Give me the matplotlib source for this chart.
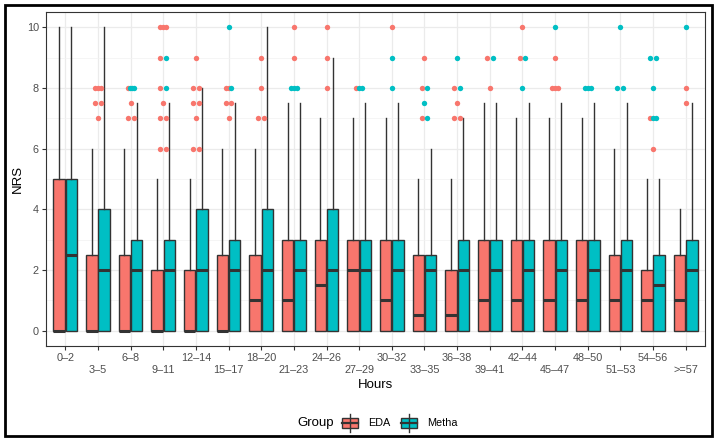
import matplotlib
matplotlib.use("Agg")
import matplotlib.pyplot as plt
from matplotlib.patches import Rectangle
from matplotlib.lines import Line2D

# categories
hours = ["0–2", "3–5", "6–8", "9–11", "12–14", "15–17", "18–20", "21–23",
         "24–26", "27–29", "30–32", "33–35", "36–38", "39–41", "42–44",
         "45–47", "48–50", "51–53", "54–56", ">=57"]

# EDA box stats
eda_q1 = [0, 0, 0, 0, 0, 0, 0, 0, 0, 0, 0, 0, 0, 0, 0, 0, 0, 0, 0, 0]
eda_med = [0, 0, 0, 0, 0, 0, 1, 1, 1.5, 2, 1, 0.5, 0.5, 1, 1, 1, 1, 1, 1, 1]
eda_q3 = [5, 2.5, 2.5, 2, 2, 2.5, 2.5, 3, 3, 3, 3, 2.5, 2, 3, 3, 3, 3, 2.5, 2, 2.5]
eda_whi = [10, 6, 6, 5, 5, 6, 6, 7.5, 7, 7, 7, 5, 5, 7.5, 7, 7, 7, 6, 5, 4]
eda_out = [[], [8, 8, 8, 7.5, 7.5, 7], [8, 7.5, 7, 7],
           [10, 10, 10, 9, 8, 7.5, 7, 7, 6, 6], [9, 8, 8, 7.5, 7.5, 7, 6, 6],
           [8, 8, 7.5, 7.5, 7], [9, 8, 7, 7], [10, 9], [10, 9, 8], [8], [10],
           [9, 8, 7], [8, 7.5, 7, 7], [9, 8], [10, 9], [9, 8, 8, 8], [], [],
           [7, 6], [8, 7.5]]

# Metha box stats
metha_q1 = [0, 0, 0, 0, 0, 0, 0, 0, 0, 0, 0, 0, 0, 0, 0, 0, 0, 0, 0, 0]
metha_med = [2.5, 2, 2, 2, 2, 2, 2, 2, 2, 2, 2, 2, 2, 2, 2, 2, 2, 2, 1.5, 2]
metha_q3 = [5, 4, 3, 3, 4, 3, 4, 3, 4, 3, 3, 2.5, 3, 3, 3, 3, 3, 3, 2.5, 3]
metha_whi = [10, 10, 7.5, 7.5, 8, 7.5, 10, 7.5, 9, 7.5, 7.5, 6, 7, 7.5, 7.5,
             7.5, 7.5, 7.5, 5, 7.5]
metha_out = [[], [], [8, 8, 8], [9, 8], [], [10, 8], [], [8, 8, 8], [], [8, 8],
             [9, 8], [8, 7.5, 7], [9, 8], [9], [9, 8], [10], [8, 8, 8],
             [10, 8, 8], [9, 9, 8, 7, 7], [10]]

groups = ["EDA", "Metha"]
colors = {"EDA": "#F8766D", "Metha": "#00BFC4"}

plt.rcParams["font.family"] = ["Liberation Sans", "DejaVu Sans"]

W, H = 718, 443
fig = plt.figure(figsize=(W / 100, H / 100), dpi=100)
ax = fig.add_axes([45.7 / W, 1 - 345.7 / H, 659.6 / W, 333.7 / H])

dark = "#333333"
dodge = 0.1875
bw = 0.35
x = list(range(len(hours)))


def make_stats(q1, med, q3, whi):
    return [dict(med=m, q1=a, q3=b, whislo=a, whishi=w, fliers=[])
            for a, m, b, w in zip(q1, med, q3, whi)]


series = {
    "EDA": (make_stats(eda_q1, eda_med, eda_q3, eda_whi), -dodge),
    "Metha": (make_stats(metha_q1, metha_med, metha_q3, metha_whi), dodge),
}
for g in groups:
    stats, off = series[g]
    ax.bxp(stats, positions=[i + off for i in x], widths=bw,
           patch_artist=True, showfliers=False, showcaps=False,
           boxprops=dict(facecolor=colors[g], edgecolor=dark, linewidth=1.0),
           whiskerprops=dict(color=dark, linewidth=1.0),
           medianprops=dict(color=dark, linewidth=2.2, solid_capstyle="butt"),
           manage_ticks=False, zorder=3)

# outlier points, spread a little around the category centre
for i in x:
    pts = [(v, "EDA") for v in eda_out[i]] + [(v, "Metha") for v in metha_out[i]]
    for v in sorted(set(p[0] for p in pts)):
        same = [p for p in pts if p[0] == v]
        n = len(same)
        for k, (val, g) in enumerate(same):
            dx = 0 if n == 1 else -0.09 + 0.18 * k / (n - 1)
            ax.scatter(i + dx, val, s=15, color=colors[g], linewidths=0,
                       zorder=4)

ax.set_xlim(-0.6, len(hours) - 0.4)
ax.set_ylim(-0.5, 10.5)
ax.set_yticks([0, 2, 4, 6, 8, 10])
ax.set_yticks([1, 3, 5, 7, 9], minor=True)
ax.set_xticks(x)
ax.set_xticklabels([h if i % 2 == 0 else "\n" + h for i, h in enumerate(hours)],
                   linespacing=1.3)
ax.grid(True, which="major", color="#EBEBEB", linewidth=0.9, zorder=0)
ax.grid(True, which="minor", axis="y", color="#F2F2F2", linewidth=0.5, zorder=0)
ax.set_axisbelow(True)
ax.tick_params(axis="both", which="major", length=2.7, width=0.8, color=dark,
               labelsize=7.8, labelcolor="#4D4D4D", pad=2.2)
ax.tick_params(axis="y", which="minor", length=0)
for s in ax.spines.values():
    s.set_color(dark)
    s.set_linewidth(0.8)

ax.set_xlabel("Hours", fontsize=9.5)
ax.set_ylabel("NRS", fontsize=9.5)
ax.xaxis.set_label_coords(0.5, (345.7 - 385) / 333.7)
ax.xaxis.label.set_va("center")
ax.yaxis.set_label_coords((18 - 45.7) / 659.6, 0.5)
ax.yaxis.label.set_va("center")

# legend at the bottom
ly = 423
fig.text(297 / W, 1 - ly / H, "Group", fontsize=9.5, va="center", ha="left")


def key(x0, g, label):
    fig.add_artist(Line2D([(x0 + 8) / W] * 2, [1 - 414 / H, 1 - 432 / H],
                          color=dark, linewidth=1.0, transform=fig.transFigure))
    fig.add_artist(Rectangle((x0 / W, 1 - 428.3 / H), 16 / W, 10.6 / H,
                             facecolor=colors[g], edgecolor=dark, linewidth=1.0,
                             transform=fig.transFigure))
    fig.add_artist(Line2D([x0 / W, (x0 + 16) / W], [1 - ly / H] * 2,
                          color=dark, linewidth=1.6, transform=fig.transFigure))
    fig.text((x0 + 26) / W, 1 - ly / H, label, fontsize=7.8, va="center",
             ha="left")


key(342, "EDA", "EDA")
key(401, "Metha", "Metha")

# black frame around the picture
fig.add_artist(Rectangle((4.5 / W, 1 - 435.5 / H), 707.5 / W, 431 / H,
                         fill=False, edgecolor="black", linewidth=2.0,
                         transform=fig.transFigure))

fig.savefig("out.png", dpi=100)
